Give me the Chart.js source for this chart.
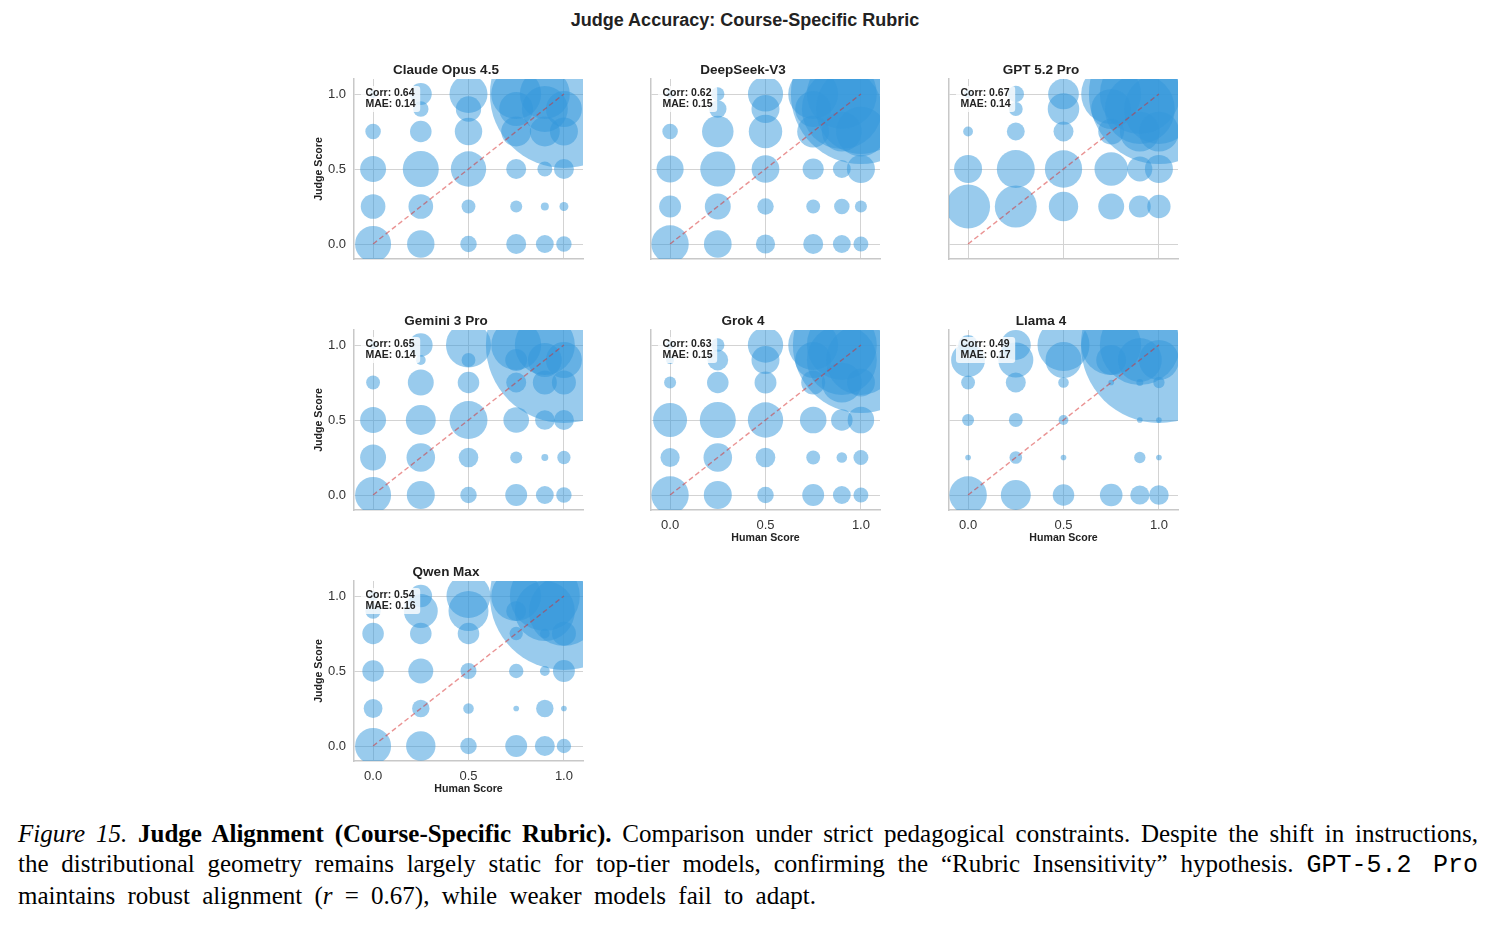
<!DOCTYPE html>
<html>
<head>
<meta charset="utf-8">
<title>Judge Accuracy: Course-Specific Rubric</title>
<script src="https://cdn.jsdelivr.net/npm/chart.js@4.4.1/dist/chart.umd.min.js"></script>
<style>
  body { margin: 0; background: #fff; width: 1494px; height: 925px; position: relative; overflow: hidden;
         font-family: "Liberation Sans", Arial, sans-serif; }
  #suptitle { position: absolute; left: 0; width: 1490px; top: 10px; text-align: center;
              font-weight: bold; font-size: 18px; color: #222; }
  .panel { position: absolute; }
  #caption { position: absolute; left: 18px; top: 819px; width: 1460px;
             font-family: "Liberation Serif", "Times New Roman", serif; font-size: 25px; line-height: 30px; color: #000; }
  #caption div { white-space: nowrap; }
  #caption .full { text-align: justify; text-align-last: justify; }
  #caption .last { word-spacing: 6px; }
  #caption code { font-family: "Liberation Mono", "Courier New", monospace; font-size: 25px; }
</style>
</head>
<body>
<div id="suptitle">Judge Accuracy: Course-Specific Rubric</div>
<div id="caption">
  <div class="full"><i>Figure 15.</i> <b>Judge Alignment (Course-Specific Rubric).</b> Comparison under strict pedagogical constraints. Despite the shift in instructions,</div>
  <div class="full">the distributional geometry remains largely static for top-tier models, confirming the &ldquo;Rubric Insensitivity&rdquo; hypothesis. <code>GPT-5.2 Pro</code></div>
  <div class="last">maintains robust alignment (<i>r</i> = 0.67), while weaker models fail to adapt.</div>
</div>

<script>
// ===============================
// Data
// ===============================
const scoreLevels = [0, 0.25, 0.5, 0.75, 0.9, 1.0];
const tickValues = [0, 0.5, 1.0];
const diagLine = [0, 1];

const modelNames = ["Claude Opus 4.5", "DeepSeek-V3", "GPT 5.2 Pro", "Gemini 3 Pro", "Grok 4", "Llama 4", "Qwen Max"];
const corrValues = [0.64, 0.62, 0.67, 0.65, 0.63, 0.49, 0.54];
const maeValues  = [0.14, 0.15, 0.14, 0.14, 0.15, 0.17, 0.16];

// counts per cell: rows = judge score level, cols = human score level (both 0 -> 1.0)
const claudeCounts = [
  [81, 47, 17, 25, 20, 15],
  [38, 38, 12, 9, 4, 5],
  [42, 81, 78, 25, 14, 25],
  [15, 29, 47, 56, 56, 49],
  [0, 15, 40, 72, 132, 81],
  [4, 30, 90, 156, 156, 1369]
];
const deepseekCounts = [
  [87, 48, 23, 25, 20, 14],
  [30, 42, 17, 12, 15, 9],
  [46, 77, 48, 28, 20, 49],
  [15, 62, 70, 64, 100, 156],
  [0, 19, 49, 81, 400, 506],
  [4, 11, 77, 156, 306, 1225]
];
const gptCounts = [
  [0, 0, 0, 0, 0, 0],
  [121, 110, 54, 42, 30, 34],
  [49, 90, 87, 70, 39, 49],
  [6, 20, 25, 42, 100, 100],
  [0, 12, 62, 100, 306, 306],
  [4, 17, 59, 225, 400, 1225]
];
const geminiCounts = [
  [81, 49, 17, 30, 20, 15],
  [42, 51, 24, 9, 3, 11],
  [42, 56, 90, 41, 24, 25],
  [12, 42, 29, 25, 36, 36],
  [0, 6, 12, 30, 72, 81],
  [4, 35, 127, 156, 225, 1521]
];
const grokCounts = [
  [87, 49, 17, 30, 20, 14],
  [23, 51, 24, 12, 7, 14],
  [72, 81, 78, 44, 29, 44],
  [9, 29, 30, 36, 100, 49],
  [4, 27, 49, 81, 306, 306],
  [4, 11, 78, 156, 306, 1156]
];
const llamaCounts = [
  [88, 56, 29, 32, 23, 24],
  [2, 10, 2, 0, 8, 2],
  [9, 12, 6, 0, 2, 2],
  [12, 25, 7, 2, 3, 8],
  [72, 77, 81, 56, 121, 100],
  [25, 56, 169, 225, 400, 1521]
];
const qwenCounts = [
  [81, 54, 17, 30, 25, 13],
  [22, 19, 7, 2, 19, 2],
  [29, 39, 16, 13, 6, 30],
  [29, 29, 29, 11, 6, 36],
  [15, 72, 100, 25, 225, 306],
  [6, 32, 121, 156, 306, 1369]
];
const modelCounts = [claudeCounts, deepseekCounts, gptCounts, geminiCounts, grokCounts, llamaCounts, qwenCounts];

// ===============================
// Layout (pixels)
// ===============================
const colLeft = [354, 651, 949];
const rowTop = [79, 330, 581];
const areaW = 229, areaH = 180;
const yAxisW = 45, xAxisH = 40, titleH = 18, padRight = 10;
const FONT = '"Liberation Sans", Arial, sans-serif';

const radiusFor = n => 2 * Math.sqrt(n);

// Corr / MAE box in the top left corner
const corrBoxPlugin = {
  id: 'corrBox',
  afterDatasetsDraw(chart, args, opts) {
    const { ctx, chartArea } = chart;
    const lines = opts.lines;
    ctx.save();
    ctx.font = 'bold 10.5px ' + FONT;
    const w = Math.max(...lines.map(l => ctx.measureText(l).width)) + 9;
    const h = 26;
    const bx = chartArea.left + 7, by = chartArea.top + 7;
    ctx.fillStyle = 'rgba(255, 255, 255, 0.8)';
    ctx.beginPath();
    ctx.roundRect(bx, by, w, h, 3);
    ctx.fill();
    ctx.fillStyle = '#222';
    ctx.textBaseline = 'middle';
    lines.forEach((l, k) => ctx.fillText(l, bx + 4.5, by + 7.5 + k * 11));
    ctx.restore();
  }
};

function makePanel(i) {
  const col = i % 3, row = Math.floor(i / 3);
  const showY = col === 0;
  const showX = row === 2 || (row === 1 && col > 0);

  const canvas = document.createElement('canvas');
  canvas.className = 'panel';
  canvas.width = yAxisW + areaW + padRight;
  canvas.height = titleH + areaH + xAxisH;
  canvas.style.left = (colLeft[col] - yAxisW) + 'px';
  canvas.style.top = (rowTop[row] - titleH) + 'px';
  document.body.appendChild(canvas);

  const points = [];
  modelCounts[i].forEach((rowCounts, yi) => {
    rowCounts.forEach((n, xi) => {
      if (n > 0) points.push({ x: scoreLevels[xi], y: scoreLevels[yi], r: radiusFor(n) });
    });
  });

  new Chart(canvas.getContext('2d'), {
    type: 'bubble',
    data: {
      datasets: [{
        type: 'line',
        data: diagLine.map(v => ({ x: v, y: v })),
        borderColor: 'rgba(214, 39, 40, 0.5)',
        borderWidth: 1.4,
        borderDash: [5, 3],
        pointRadius: 0,
        fill: false,
        order: 0
      }, {
        data: points,
        backgroundColor: 'rgba(52, 152, 219, 0.5)',
        borderWidth: 0,
        hoverRadius: 0,
        clip: 0,
        order: 1
      }]
    },
    options: {
      responsive: false,
      animation: false,
      events: [],
      layout: { autoPadding: false, padding: { top: 0, left: 0, bottom: 0, right: padRight } },
      plugins: {
        legend: { display: false },
        tooltip: { enabled: false },
        title: {
          display: true,
          text: modelNames[i],
          color: '#222',
          font: { family: FONT, size: 13.5, weight: 'bold', lineHeight: 1 },
          padding: { top: 2.5, bottom: 2 }
        },
        corrBox: { lines: ['Corr: ' + corrValues[i].toFixed(2), 'MAE: ' + maeValues[i].toFixed(2)] }
      },
      scales: {
        x: {
          type: 'linear', min: -0.1, max: 1.1,
          afterBuildTicks: s => { s.ticks = tickValues.map(v => ({ value: v })); },
          afterFit: s => { s.height = xAxisH; },
          grid: { color: '#d3d3d3', lineWidth: 1, drawTicks: false },
          border: { color: '#c8c8c8', width: 1.5 },
          ticks: { display: showX, padding: 8, color: '#333', font: { family: FONT, size: 13 },
                   callback: v => v.toFixed(1) },
          title: { display: showX, text: 'Human Score', color: '#222',
                   font: { family: FONT, size: 10.6, weight: 'bold' }, padding: { top: 0, bottom: 6 } }
        },
        y: {
          type: 'linear', min: -0.1, max: 1.1,
          afterBuildTicks: s => { s.ticks = tickValues.map(v => ({ value: v })); },
          afterFit: s => { s.width = yAxisW; },
          grid: { color: '#d3d3d3', lineWidth: 1, drawTicks: false },
          border: { color: '#c8c8c8', width: 1.5 },
          ticks: { display: showY, padding: 8, color: '#333', font: { family: FONT, size: 13 },
                   callback: v => v.toFixed(1) },
          title: { display: showY, text: 'Judge Score', color: '#222',
                   font: { family: FONT, size: 10.6, weight: 'bold' }, padding: { top: 4, bottom: 0 } }
        }
      }
    },
    plugins: [corrBoxPlugin]
  });
}

modelNames.forEach((_, i) => makePanel(i));
</script>
</body>
</html>
